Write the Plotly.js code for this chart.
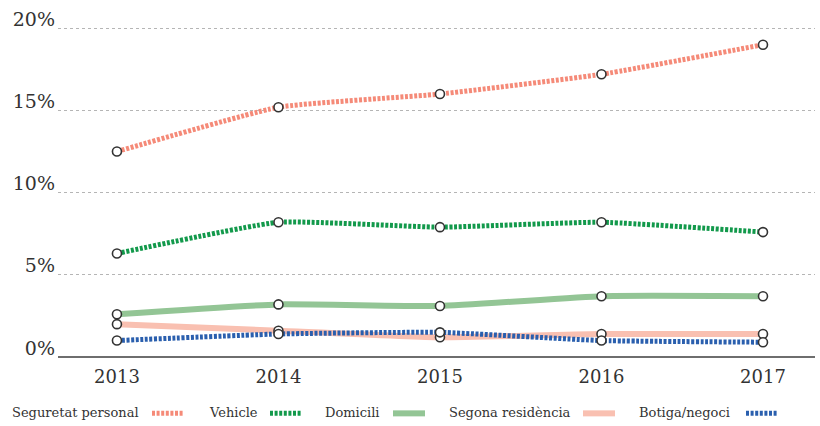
<!DOCTYPE html>
<html>
<head>
<meta charset="utf-8">
<script src="https://cdn.plot.ly/plotly-3.0.1.min.js"></script>
<style>
html,body{margin:0;padding:0;background:#fff;}
#chart{width:820px;height:426px;}
</style>
</head>
<body>
<div id="chart"></div>
<script>
// ---- data ----
var years = [2013, 2014, 2015, 2016, 2017];
var seguretatPersonal = [12.5, 15.2, 16.0, 17.2, 19.0];
var vehicle = [6.3, 8.2, 7.9, 8.2, 7.6];
var domicili = [2.6, 3.2, 3.1, 3.7, 3.7];
var segonaResidencia = [2.0, 1.6, 1.2, 1.4, 1.4];
var botigaNegoci = [1.0, 1.4, 1.5, 1.0, 0.9];
var seriesNames = ['Seguretat personal', 'Vehicle', 'Domicili', 'Segona residència', 'Botiga/negoci'];
var yTickVals = [0, 5, 10, 15, 20];
var yTickText = ['0%', '5%', '10%', '15%', '20%'];

// ---- styles ----
var FONT = 'DejaVu Serif, Liberation Serif, serif';
var styles = [
  {color: '#f58a78', width: 5, dash: '3px,1.6px'},
  {color: '#12994b', width: 5, dash: '3px,1.6px'},
  {color: '#93c595', width: 6, dash: 'solid'},
  {color: '#f9c0b1', width: 6, dash: 'solid'},
  {color: '#2a5fae', width: 5, dash: '3px,1.6px'}
];
var allSeries = [seguretatPersonal, vehicle, domicili, segonaResidencia, botigaNegoci];

var traces = allSeries.map(function (vals, i) {
  return {
    x: years, y: vals, name: seriesNames[i], type: 'scatter', mode: 'lines',
    line: {color: styles[i].color, width: styles[i].width, dash: styles[i].dash, shape: 'spline', smoothing: 0.4},
    hoverinfo: 'x+y+name', showlegend: false
  };
});
allSeries.forEach(function (vals, i) {
  traces.push({
    x: years, y: vals, name: seriesNames[i], type: 'scatter', mode: 'markers',
    marker: {size: 9, color: '#ffffff', line: {color: '#333333', width: 1.6}},
    hoverinfo: 'skip', showlegend: false, cliponaxis: false
  });
});

// ---- legend drawn with annotations + shapes ----
var W = 820, H = 426;
var M = {l: 58, r: 5, t: 24.7, b: 68.5};
var pw = W - M.l - M.r, ph = H - M.t - M.b;
function px(x) { return (x - M.l) / pw; }
function py(y) { return (H - M.b - y) / ph; }
var legendTextX = [10, 207, 323, 447, 637];
var legendSymX = [152, 270, 393, 583, 746];
var legendY = 413;
var annotations = [], shapes = [];
seriesNames.forEach(function (n, i) {
  annotations.push({
    xref: 'paper', yref: 'paper', x: px(legendTextX[i]), y: py(legendY),
    xanchor: 'left', yanchor: 'middle', showarrow: false, text: n,
    font: {family: FONT, size: 13, color: '#333333'}
  });
  shapes.push({
    type: 'line', xref: 'paper', yref: 'paper',
    x0: px(legendSymX[i]), x1: px(legendSymX[i] + 32), y0: py(legendY + 1), y1: py(legendY + 1),
    line: {color: styles[i].color, width: styles[i].width, dash: styles[i].dash}
  });
});

var layout = {
  width: W, height: H,
  margin: M,
  paper_bgcolor: '#ffffff', plot_bgcolor: '#ffffff',
  showlegend: false,
  font: {family: FONT, color: '#333333'},
  xaxis: {
    range: [2012.635, 2017.322], tickvals: years, ticktext: years.map(String),
    showgrid: false, zeroline: false, showline: false, ticks: '',
    tickfont: {family: FONT, size: 18, color: '#333333'}, ticklabelstandoff: 7
  },
  yaxis: {
    range: [0, 20.2], tickvals: yTickVals, ticktext: yTickText,
    showgrid: true, gridcolor: '#b5b5b5', griddash: 'dot', gridwidth: 1,
    zeroline: true, zerolinecolor: '#6e6e6e', zerolinewidth: 2,
    showline: false, ticks: '',
    tickfont: {family: FONT, size: 19, color: '#333333'},
    ticklabelshift: -9, ticklabelstandoff: 2
  },
  annotations: annotations,
  shapes: shapes
};

Plotly.newPlot('chart', traces, layout, {displayModeBar: false, staticPlot: true});
</script>
</body>
</html>
